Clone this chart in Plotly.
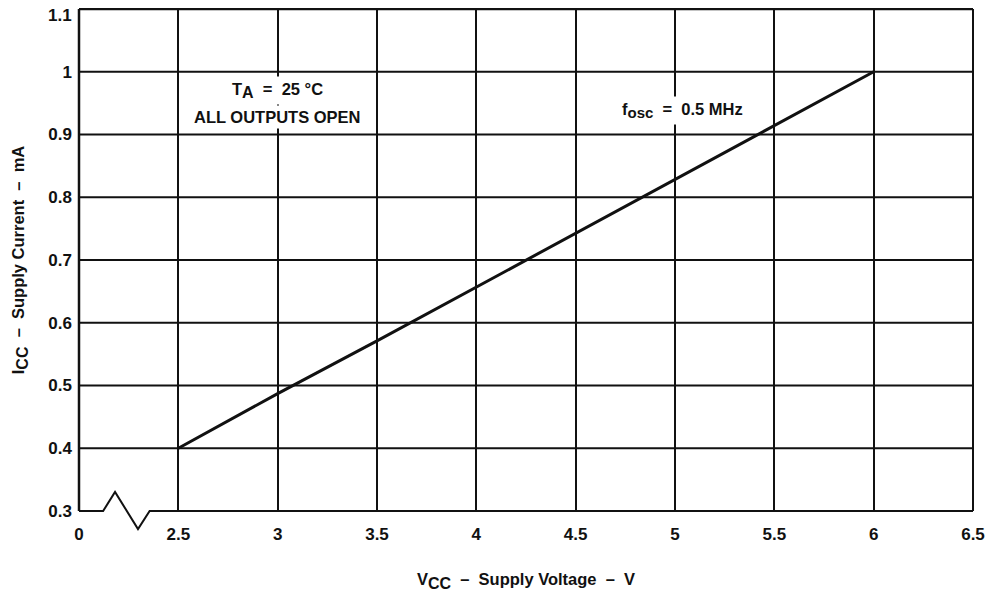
import plotly.graph_objects as go

# Data
vcc = [2.5, 3.0, 3.5, 4.0, 4.5, 5.0, 5.5, 6.0]
icc = [0.40, 0.487, 0.571, 0.657, 0.743, 0.829, 0.914, 1.0]

# Axis ticks (x axis has a break: "0" is drawn one grid step left of 2.5)
x_tickvals = [2.0, 2.5, 3.0, 3.5, 4.0, 4.5, 5.0, 5.5, 6.0, 6.5]
x_ticktext = ["0", "2.5", "3", "3.5", "4", "4.5", "5", "5.5", "6", "6.5"]
y_tickvals = [0.3, 0.4, 0.5, 0.6, 0.7, 0.8, 0.9, 1.0, 1.1]
y_ticktext = ["0.3", "0.4", "0.5", "0.6", "0.7", "0.8", "0.9", "1", "1.1"]

FONT = "Liberation Sans"
BLACK = "#111111"
NB = "\u00a0"
DASH = f"{NB*2}–{NB*2}"


def sub(s, size):
    return f'<sub><span style="font-size:{size}px">{s}</span></sub>'


fig = go.Figure()
fig.add_trace(go.Scatter(x=vcc, y=icc, mode="lines",
                         line=dict(color=BLACK, width=3), showlegend=False,
                         hoverinfo="skip", cliponaxis=False))

shapes = []
# horizontal grid lines (full width, including break region)
for v in y_tickvals[1:-1]:
    shapes.append(dict(type="line", xref="paper", yref="y", x0=0, x1=1, y0=v, y1=v,
                       line=dict(color=BLACK, width=2), layer="below"))
# frame: left, right, top
shapes.append(dict(type="line", xref="paper", yref="paper", x0=0, x1=0, y0=0, y1=1,
                   line=dict(color=BLACK, width=2.5)))
shapes.append(dict(type="line", xref="paper", yref="paper", x0=1, x1=1, y0=0, y1=1,
                   line=dict(color=BLACK, width=2)))
shapes.append(dict(type="line", xref="paper", yref="paper", x0=0, x1=1, y0=1, y1=1,
                   line=dict(color=BLACK, width=2.5)))
# bottom line with axis-break zigzag
shapes.append(dict(type="path", xref="paper", yref="paper",
                   path="M 0 0 L 0.027 0 L 0.0403 0.038 L 0.066 -0.036 L 0.079 0 L 1 0",
                   line=dict(color=BLACK, width=2)))

ann_font = dict(family=FONT, size=16.5, color=BLACK, weight="bold")
tick_font = dict(family=FONT, size=17, color=BLACK, weight="bold")
title_font = dict(family=FONT, size=16.5, color=BLACK, weight="bold")

fig.update_layout(
    width=1004, height=594,
    margin=dict(l=71, r=39, t=1, b=91, autoexpand=False),
    paper_bgcolor="white", plot_bgcolor="white",
    font=dict(family=FONT, color=BLACK),
    shapes=shapes,
    xaxis=dict(range=[2.0, 6.5], tickvals=x_tickvals, ticktext=x_ticktext,
               showgrid=True, gridcolor=BLACK, gridwidth=2, zeroline=False,
               showline=False, ticks="", ticklabelstandoff=11, automargin=False,
               ticklabeloverflow="allow", tickfont=tick_font,
               title=dict(text=f"V{sub('CC', 16)}{DASH}Supply Voltage{DASH}V",
                          font=title_font, standoff=30)),
    yaxis=dict(range=[0.2999, 1.1001], tickvals=y_tickvals[:-1], ticktext=y_ticktext[:-1],
               showgrid=False, zeroline=False, showline=False, ticks="",
               ticklabelstandoff=6, automargin=False, ticklabeloverflow="allow",
               tickfont=tick_font,
               title=dict(text=f"I{sub('CC', 16)}{DASH}Supply Current{DASH}mA",
                          font=title_font, standoff=19)),
    annotations=[
        # top y tick label, nudged below the frame so it is not cut off
        dict(x=0, y=y_tickvals[-1], xref="paper", yref="y", xanchor="right",
             yanchor="middle", xshift=-5, yshift=-6, text=y_ticktext[-1],
             showarrow=False, font=tick_font),
        dict(x=3.0, y=0.97, xref="x", yref="y",
             text=f"T{sub('A', 16)}{NB*2}={NB*2}25{NB}°C", showarrow=False,
             font=ann_font, bgcolor="white", align="center", borderpad=3),
        dict(x=3.0, y=0.928, xref="x", yref="y",
             text="ALL OUTPUTS OPEN", showarrow=False,
             font=ann_font, bgcolor="white", align="center", borderpad=2),
        dict(x=5.04, y=0.938, xref="x", yref="y",
             text=f"f{sub('osc', 15)}{NB*2}={NB*2}0.5 MHz", showarrow=False,
             font=ann_font, bgcolor="white", align="center", borderpad=3),
    ],
)

fig.write_html("out.html")
